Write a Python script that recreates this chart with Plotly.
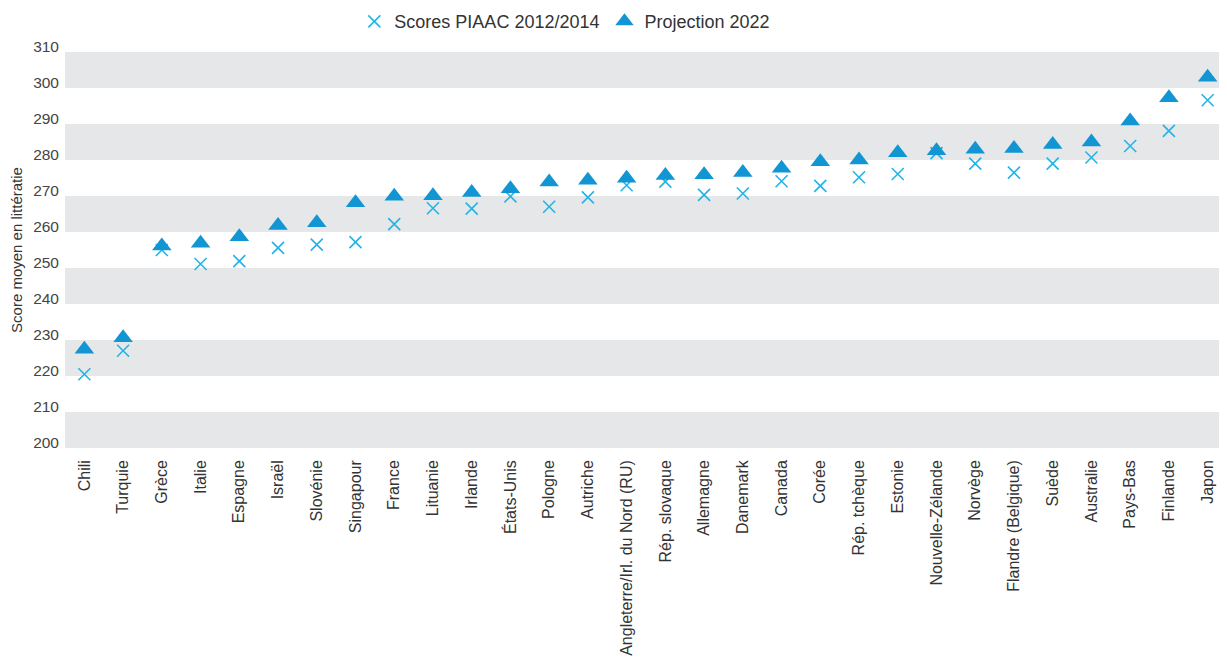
import plotly.graph_objects as go

countries = ["Chili", "Turquie", "Grèce", "Italie", "Espagne", "Israël", "Slovénie", "Singapour",
             "France", "Lituanie", "Irlande", "États-Unis", "Pologne", "Autriche",
             "Angleterre/Irl. du Nord (RU)", "Rép. slovaque", "Allemagne", "Danemark", "Canada",
             "Corée", "Rép. tchèque", "Estonie", "Nouvelle-Zélande", "Norvège", "Flandre (Belgique)",
             "Suède", "Australie", "Pays-Bas", "Finlande", "Japon"]
scores_2012 = [220.5, 227.0, 255.0, 251.1, 251.9, 255.6, 256.5, 257.2, 262.2, 266.6, 266.5, 269.9,
               267.0, 269.6, 273.0, 274.0, 270.3, 270.7, 274.1, 272.8, 275.2, 276.1, 281.9, 279.0,
               276.5, 279.0, 280.7, 283.9, 288.1, 296.6]
projection_2022 = [227.4, 230.6, 256.1, 256.9, 258.7, 261.8, 262.6, 268.1, 269.9, 270.1, 271.0,
                   272.0, 273.9, 274.4, 274.9, 275.7, 275.9, 276.5, 277.7, 279.5, 280.0, 282.0,
                   282.6, 283.0, 283.2, 284.3, 285.0, 290.8, 297.3, 303.0]
y_ticks = [200, 210, 220, 230, 240, 250, 260, 270, 280, 290, 300, 310]
bands = [(200, 210), (220, 230), (240, 250), (260, 270), (280, 290), (300, 310)]

FONT = "Liberation Sans, Arial, sans-serif"
fig = go.Figure()
fig.add_trace(go.Scatter(
    x=countries, y=scores_2012, mode="markers", name="Scores PIAAC 2012/2014",
    marker=dict(symbol="x-thin-open", size=12, line=dict(color="#22B4E6", width=1.6), color="#22B4E6"),
))
fig.add_trace(go.Scatter(
    x=countries, y=projection_2022, mode="markers", name="Projection 2022",
    marker=dict(symbol="triangle-up", size=17, color="#1296D3", line=dict(width=0)),
))
for lo, hi in bands:
    fig.add_shape(type="rect", xref="paper", yref="y", x0=0, x1=1, y0=lo, y1=hi,
                  fillcolor="#E6E7E8", line=dict(width=0), layer="below")

fig.update_layout(
    width=1219, height=651,
    margin=dict(l=57, r=0, t=44, b=211, autoexpand=False),
    plot_bgcolor="white", paper_bgcolor="white",
    font=dict(family=FONT, color="#444444", size=15),
    showlegend=True,
    legend=dict(orientation="h", x=0.249, xanchor="left", y=1.03, yanchor="bottom",
                font=dict(size=18, color="#333333"), itemwidth=30, bgcolor="rgba(0,0,0,0)"),
    xaxis=dict(type="category", range=[-0.5, 29.5], tickangle=-90, showgrid=False,
               showline=False, ticks="", tickfont=dict(size=16, color="#333333"), ticklabelstandoff=8),
    yaxis=dict(range=[200, 310], tickvals=y_ticks, showgrid=False, zeroline=False, showline=False,
               ticks="", tickfont=dict(size=15.5, color="#444444"), ticklabelshift=-5,
               ticklabelstandoff=5,
               title=dict(text="Score moyen en littératie", font=dict(size=15, color="#333333"), standoff=9)),
)
fig.write_html("out.html")
